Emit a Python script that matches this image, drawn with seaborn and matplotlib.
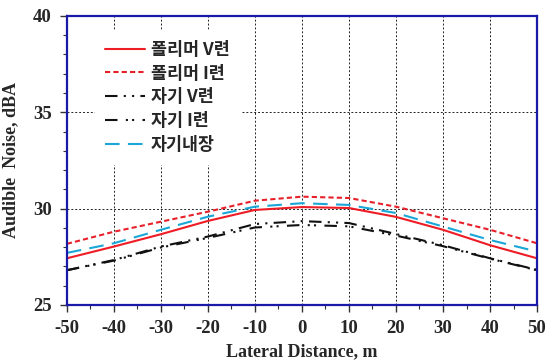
import matplotlib
matplotlib.use("Agg")
import matplotlib.pyplot as plt
import seaborn as sns
import pandas as pd
from matplotlib.ticker import MultipleLocator

distance = [-50, -40, -30, -20, -10, 0, 10, 20, 30, 40, 50]
poly_v = [27.42, 28.03, 28.67, 29.36, 29.93, 30.08, 30.03, 29.57, 28.90, 28.10, 27.42]
poly_i = [28.17, 28.80, 29.32, 29.84, 30.41, 30.62, 30.55, 30.10, 29.50, 28.90, 28.20]
mag_v = [26.80, 27.33, 28.03, 28.55, 29.20, 29.35, 29.25, 28.68, 28.10, 27.42, 26.82]
mag_i = [26.80, 27.30, 27.98, 28.48, 29.02, 29.15, 29.08, 28.60, 28.05, 27.40, 26.80]
mag_in = [27.70, 28.20, 28.90, 29.58, 30.10, 30.28, 30.19, 29.77, 29.07, 28.37, 27.77]
labels = ["폴리머 V련", "폴리머 I련", "자기 V련", "자기 I련", "자기내장"]
xticks = [-50, -40, -30, -20, -10, 0, 10, 20, 30, 40, 50]
yticks = [25, 30, 35, 40]

sns.set_theme(style="white")
plt.rcParams['font.family'] = ['Liberation Serif', 'DejaVu Serif']
plt.rcParams['axes.unicode_minus'] = False

fig = plt.figure(figsize=(5.48, 3.63), dpi=100)
ax = fig.add_axes([0.122, 0.160, 0.858, 0.796])

series = [poly_v, poly_i, mag_v, mag_i, mag_in]
colors = ["#ee1c25", "#e8202a", "#111111", "#111111", "#1aa7d8"]
styles = ["-", (0, (2.5, 1.5)), (0, (6, 3, 1, 3, 1, 3)), (0, (6, 4, 1, 2, 1, 4)), (0, (7, 4))]
for vals, lab, c, ls in zip(series, labels, colors, styles):
    df = pd.DataFrame({"x": distance, "y": vals})
    sns.lineplot(data=df, x="x", y="y", ax=ax, color=c, linestyle=ls, linewidth=1.5, label=lab)

ax.set_xlim(-50, 50)
ax.set_ylim(25, 40)
ax.set_xticks(xticks)
ax.set_yticks(yticks)
ax.xaxis.set_minor_locator(MultipleLocator(5))
ax.yaxis.set_minor_locator(MultipleLocator(1))
ax.tick_params(which="major", direction="out", length=5, width=1, color="#333333",
               bottom=True, left=True, labelsize=13.5, pad=6)
ax.tick_params(which="minor", direction="out", length=3, width=0.8, color="#333333",
               bottom=True, left=True)
for t in ax.get_xticklabels() + ax.get_yticklabels():
    t.set_fontweight("bold")
ax.grid(True, which="major", linestyle=(0, (2, 2)), color="#222222", linewidth=0.7)
for s in ax.spines.values():
    s.set_color("#1a1aa8")
    s.set_linewidth(1.6)
    s.set_visible(True)

ax.set_xlabel("Lateral Distance, m", fontsize=13, fontweight="bold", labelpad=4)
ax.set_ylabel("Audible  Noise, dBA", fontsize=13, fontweight="bold", labelpad=10)

leg = ax.legend(loc="upper left", bbox_to_anchor=(0.06, 0.95), frameon=True, framealpha=1,
                edgecolor="white", facecolor="white", handlelength=2.3, handletextpad=0.3,
                labelspacing=0.33, borderaxespad=0, borderpad=0.6,
                prop={"family": ["Noto Sans CJK KR", "DejaVu Sans"], "weight": "bold", "size": 12.5})

fig.savefig("out.png", dpi=100)
